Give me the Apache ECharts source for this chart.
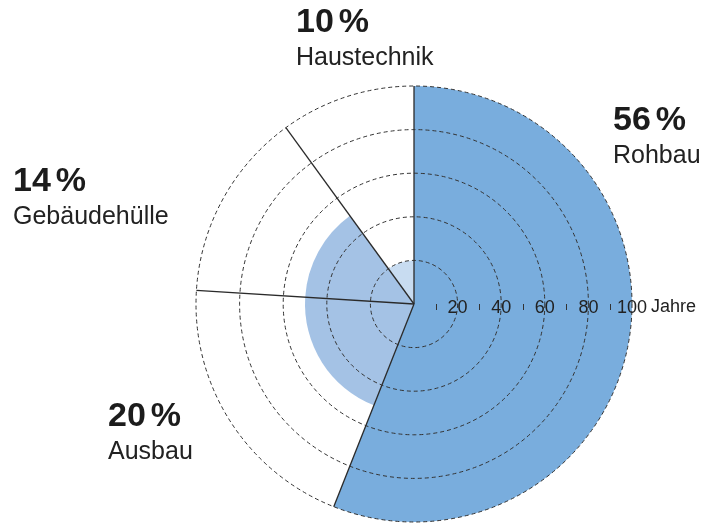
<!DOCTYPE html>
<html>
<head>
<meta charset="utf-8">
<script src="https://cdn.jsdelivr.net/npm/echarts@6/dist/echarts.min.js"></script>
<style>
html,body{margin:0;padding:0;background:#fff;}
#c{width:702px;height:525px;}
</style>
</head>
<body>
<div id="c"></div>
<script>
// ---- data ----
var categories = ['Rohbau', 'Ausbau', 'Gebäudehülle', 'Haustechnik'];
var shares = [56, 20, 14, 10];          // percent of total
var lifespans = [100, 50, 50, 20];      // years
var radiusTicks = [0, 20, 40, 60, 80, 100];
var axisUnit = 'Jahre';

// ---- style / layout (not data) ----
var colors = ['#79addd', '#a4c2e5', '#a4c2e5', '#c8dcf1'];
var labelLayout = [
  {x: 613, y: 132},
  {x: 108, y: 428},
  {x: 13,  y: 193},
  {x: 296, y: 34}
];
var FONT = '"Liberation Sans", Arial, Helvetica, sans-serif';

var seriesData = [];
var acc = 0;
for (var i = 0; i < categories.length; i++) {
  seriesData.push({value: [lifespans[i], acc, acc + shares[i]], itemStyle: {color: colors[i]}});
  acc += shares[i];
}
var maxYears = radiusTicks[radiusTicks.length - 1];

var graphics = [];
for (var k = 0; k < categories.length; k++) {
  var L = labelLayout[k];
  graphics.push({
    type: 'text', x: L.x, y: L.y - 11.8, z: 100,
    style: {
      text: '{n|' + shares[k] + '}{p|%}',
      verticalAlign: 'middle', align: 'left',
      rich: {
        n: {font: 'bold 34px ' + FONT, fill: '#1c1c1c'},
        p: {font: 'bold 34px ' + FONT, fill: '#1c1c1c', padding: [0, 0, 0, 5]}
      }
    }
  });
  graphics.push({
    type: 'text', x: L.x, y: L.y + 33 - 8.8, z: 100,
    style: {
      text: categories[k], font: '25px ' + FONT, fill: '#222',
      verticalAlign: 'middle', align: 'left'
    }
  });
}

var chart = echarts.init(document.getElementById('c'), null, {renderer: 'canvas'});
chart.setOption({
  backgroundColor: '#ffffff',
  animation: false,
  polar: [
    {center: [414, 304], radius: 218},
    {center: [414, 304], radius: 218}
  ],
  angleAxis: [
    {polarIndex: 0, type: 'value', min: 0, max: 100, startAngle: 90, clockwise: true,
     axisLine: {show: false}, axisTick: {show: false}, axisLabel: {show: false}, splitLine: {show: false}},
    {polarIndex: 1, type: 'value', min: 0, max: 100, startAngle: 0, clockwise: true,
     axisLine: {show: false}, axisTick: {show: false}, axisLabel: {show: false}, splitLine: {show: false}}
  ],
  radiusAxis: [
    {polarIndex: 0, type: 'value', min: 0, max: maxYears,
     axisLine: {show: false}, axisTick: {show: false}, axisLabel: {show: false}, splitLine: {show: false}},
    {polarIndex: 1, type: 'value', min: radiusTicks[0], max: maxYears, interval: radiusTicks[1] - radiusTicks[0], z: 10,
     axisLine: {show: false}, axisTick: {show: false},
     minorTick: {show: true, splitNumber: 2, length: -6, lineStyle: {color: '#333', width: 1}},
     axisLabel: {
       show: true, margin: -4, align: 'center', verticalAlign: 'middle',
       fontFamily: FONT, fontSize: 18, color: '#222',
       formatter: function (v) { return v === 0 ? '' : String(v); }
     },
     name: axisUnit, nameLocation: 'end', nameGap: 19,
     nameTextStyle: {fontFamily: FONT, fontSize: 18, color: '#222', verticalAlign: 'top', align: 'left', lineHeight: 6},
     splitLine: {show: true, lineStyle: {color: '#333', width: 1, type: [4, 3]}}}
  ],
  series: [{
    type: 'custom',
    coordinateSystem: 'polar',
    polarIndex: 0,
    encode: {radius: 0, angle: [1, 2]},
    data: seriesData,
    renderItem: function (params, api) {
      var cs = params.coordSys;
      var cx = cs.cx, cy = cs.cy;
      var life = api.value(0), a0 = api.value(1), a1 = api.value(2);
      var p0 = api.coord([life, a0]);
      var p1 = api.coord([life, a1]);
      var r = Math.sqrt((p0[0] - cx) * (p0[0] - cx) + (p0[1] - cy) * (p0[1] - cy));
      var sa = Math.atan2(p0[1] - cy, p0[0] - cx);
      var ea = Math.atan2(p1[1] - cy, p1[0] - cx);
      while (ea <= sa + 1e-6) ea += Math.PI * 2;
      var edge = api.coord([maxYears, a0]);
      return {
        type: 'group',
        children: [
          {type: 'sector', shape: {cx: cx, cy: cy, r0: 0, r: r, startAngle: sa, endAngle: ea, clockwise: true},
           style: {fill: api.visual('color')}},
          {type: 'line', z2: 10, shape: {x1: cx, y1: cy, x2: edge[0], y2: edge[1]},
           style: {stroke: '#2a2a2a', lineWidth: 1.3}}
        ]
      };
    }
  }],
  graphic: graphics
});
</script>
</body>
</html>
